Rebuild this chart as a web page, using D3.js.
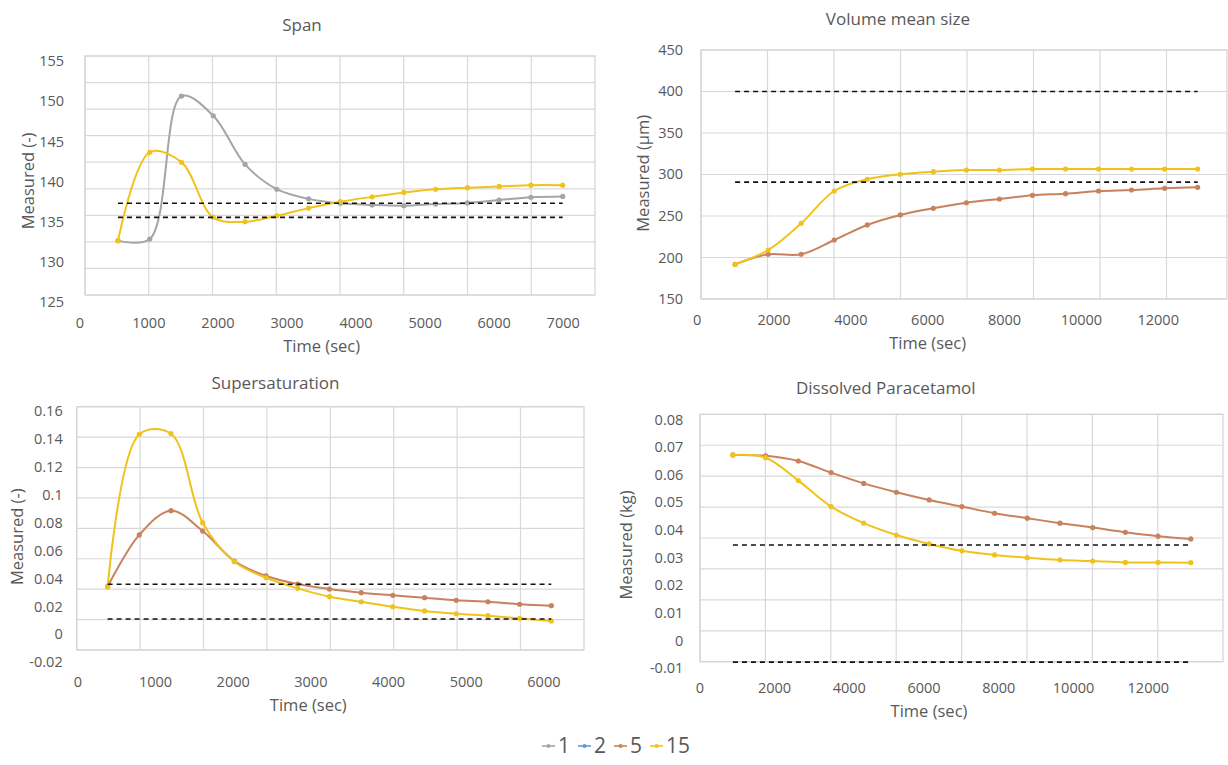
<!DOCTYPE html>
<html lang="en">
<head>
<meta charset="UTF-8" />
<script src="https://d3js.org/d3.v7.min.js"></script>
<title>Crystallisation runs</title>
<style>
  body { margin: 0; background: #fff; }
  svg text { font-family: "Open Sans", "Liberation Sans", sans-serif; fill: #595959; }
</style>
</head>
<body>
<script>
// ---- data ----
var spanTime  = [560, 1020, 1480, 1940, 2400, 2860, 3320, 3780, 4240, 4700, 5160, 5620, 6080, 6540, 7000];
var spanRun1  = [132.6, 132.8, 150.6, 148.15, 142.1, 139.0, 137.8, 137.25, 137.05, 136.95, 137.15, 137.3, 137.65, 138.0, 138.1];
var spanRun15 = [132.6, 143.6, 142.35, 135.5, 134.95, 135.7, 136.65, 137.45, 138.05, 138.6, 139.0, 139.2, 139.35, 139.5, 139.5];
var spanLimits = [137.25, 135.5];
var spanXTicks = [0, 1000, 2000, 3000, 4000, 5000, 6000, 7000];
var spanYTicks = [125, 130, 135, 140, 145, 150, 155];

var volTime  = [1000, 1860, 2720, 3580, 4440, 5300, 6160, 7020, 7880, 8740, 9600, 10460, 11320, 12180, 13040];
var volRun5  = [191.3, 203.4, 203.4, 220.5, 238.6, 250.6, 258.6, 265.3, 269.8, 274.2, 276.2, 279.4, 280.6, 282.6, 283.8];
var volRun15 = [191.3, 208.5, 240.6, 279.4, 293.5, 299.5, 302.6, 304.6, 304.6, 305.8, 305.8, 305.8, 305.8, 305.8, 305.8];
var volLimits = [399, 290];
var volXTicks = [0, 2000, 4000, 6000, 8000, 10000, 12000];
var volYTicks = [150, 200, 250, 300, 350, 400, 450];

var supTime  = [390, 798, 1206, 1614, 2022, 2430, 2838, 3246, 3654, 4062, 4470, 4878, 5286, 5694, 6102];
var supRun5  = [0.0338, 0.0709, 0.0883, 0.0737, 0.0522, 0.0415, 0.0357, 0.0321, 0.0295, 0.0276, 0.0259, 0.0240, 0.0230, 0.0212, 0.0202];
var supRun15 = [0.0338, 0.1431, 0.1435, 0.0797, 0.0517, 0.0402, 0.0326, 0.0266, 0.0230, 0.0194, 0.0164, 0.0144, 0.0130, 0.0111, 0.0092];
var supLimits = [0.0355, 0.0106];
var supXTicks = [0, 1000, 2000, 3000, 4000, 5000, 6000];
var supYTicks = [-0.02, 0, 0.02, 0.04, 0.06, 0.08, 0.1, 0.12, 0.14, 0.16];

var disTime  = [900, 1775, 2650, 3525, 4400, 5275, 6150, 7025, 7900, 8775, 9650, 10525, 11400, 12275, 13150];
var disRun5  = [0.0670, 0.0667, 0.0648, 0.0606, 0.0567, 0.0535, 0.0507, 0.0483, 0.0459, 0.0441, 0.0423, 0.0407, 0.0390, 0.0376, 0.0366];
var disRun15 = [0.0670, 0.0660, 0.0577, 0.0483, 0.0423, 0.0380, 0.0348, 0.0323, 0.0308, 0.0298, 0.0290, 0.0286, 0.0281, 0.0281, 0.0280];
var disLimits = [0.0344, -0.008];
var disXTicks = [0, 2000, 4000, 6000, 8000, 10000, 12000];
var disYTicks = [-0.01, 0, 0.01, 0.02, 0.03, 0.04, 0.05, 0.06, 0.07, 0.08];

var legendNames = ["1", "2", "5", "15"];
var colors = {"1": "#a5a5a5", "2": "#5b9bd5", "5": "#c8825c", "15": "#f0c31c"};

var svg = d3.select("body").append("svg").attr("width", 1228).attr("height", 765);

function panel(p) {
  var g = svg.append("g");
  // plot frame and grid (the picture's grid does not sit on the tick labels)
  var gy = d3.scaleLinear().domain([0, p.ny]).range([p.y1, p.y0]);
  g.selectAll(".hg").data(d3.range(p.ny + 1)).join("line")
    .attr("x1", p.x0).attr("x2", p.x1).attr("y1", gy).attr("y2", gy)
    .attr("stroke", "#d9d9d9").attr("stroke-width", 1.2);
  g.selectAll(".vg").data(d3.range(p.x0, p.x1 - 2, p.dx)).join("line")
    .attr("x1", function(d){ return d; }).attr("x2", function(d){ return d; })
    .attr("y1", p.y0).attr("y2", p.y1)
    .attr("stroke", "#d9d9d9").attr("stroke-width", 1.2);
  g.append("rect").attr("x", p.x0).attr("y", p.y0).attr("width", p.x1 - p.x0).attr("height", p.y1 - p.y0)
    .attr("fill", "none").attr("stroke", "#d4d4d4").attr("stroke-width", 1.2);

  var x = d3.scaleLinear().domain(p.xDomain).range(p.xRange);
  var y = d3.scaleLinear().domain(p.yDomain).range(p.yRange);

  var ax = g.append("g").attr("transform", "translate(0," + p.xLabY + ")")
    .call(d3.axisBottom(x).tickValues(p.xTicks).tickSize(0).tickPadding(0).tickFormat(function(d){ return String(d); }));
  ax.select(".domain").remove();
  ax.selectAll("text").attr("dy", "0.35em").style("font-size", "14.5px").style("font-family", "Open Sans").attr("fill", "#595959");

  var ay = g.append("g").attr("transform", "translate(" + p.yLabX + ",0)")
    .call(d3.axisLeft(y).tickValues(p.yTicks).tickSize(0).tickPadding(0).tickFormat(function(d){ return String(+d.toFixed(3)); }));
  ay.select(".domain").remove();
  ay.selectAll("text").attr("dy", "0.35em").style("font-size", "14.5px").style("font-family", "Open Sans").attr("fill", "#595959");

  var line = d3.line()
    .x(function(d, i){ return x(p.time[i]); })
    .y(function(d){ return y(d); })
    .curve(d3.curveCatmullRom.alpha(0.5));

  p.series.forEach(function(s) {
    g.append("path").datum(s.values).attr("d", line)
      .attr("fill", "none").attr("stroke", colors[s.name]).attr("stroke-width", 2);
    g.selectAll(null).data(s.values).join("circle")
      .attr("cx", function(d, i){ return x(p.time[i]); })
      .attr("cy", function(d){ return y(d); })
      .attr("r", 2.6).attr("fill", colors[s.name]);
  });

  p.limits.forEach(function(v) {
    g.append("line")
      .attr("x1", x(p.time[0])).attr("x2", x(p.time[p.time.length - 1]))
      .attr("y1", y(v)).attr("y2", y(v))
      .attr("stroke", "#111").attr("stroke-width", 1.6).attr("stroke-dasharray", "5,4");
  });

  g.append("text").attr("x", p.title[1]).attr("y", p.title[2]).attr("text-anchor", "middle")
    .attr("dy", "0.35em").style("font-size", "17px").text(p.title[0]);
  g.append("text").attr("x", p.xTitle[0]).attr("y", p.xTitle[1]).attr("text-anchor", "middle")
    .attr("dy", "0.35em").style("font-size", "16.5px").text("Time (sec)");
  g.append("text").attr("transform", "translate(" + p.yTitle[1] + "," + p.yTitle[2] + ") rotate(-90)")
    .attr("text-anchor", "middle").attr("dy", "0.35em").style("font-size", "16.5px").text(p.yTitle[0]);
}

panel({
  x0: 85, x1: 595, y0: 56, y1: 295, dx: 63.75, ny: 9,
  xDomain: [0, 7000], xRange: [79.3, 562.7], yDomain: [125, 155], yRange: [301.7, 60.7],
  xTicks: spanXTicks, yTicks: spanYTicks, xLabY: 322.7, yLabX: 64,
  time: spanTime, limits: spanLimits,
  series: [{name: "1", values: spanRun1}, {name: "15", values: spanRun15}],
  title: ["Span", 302, 25], xTitle: [321.7, 346.7], yTitle: ["Measured (-)", 28, 181]
});

panel({
  x0: 701, x1: 1227, y0: 50, y1: 299, dx: 66.5, ny: 6,
  xDomain: [0, 12000], xRange: [696.7, 1157.7], yDomain: [150, 450], yRange: [298.7, 49],
  xTicks: volXTicks, yTicks: volYTicks, xLabY: 320, yLabX: 683,
  time: volTime, limits: volLimits,
  series: [{name: "5", values: volRun5}, {name: "15", values: volRun15}],
  title: ["Volume mean size", 898, 19], xTitle: [927.7, 343.3], yTitle: ["Measured (\u00b5m)", 643.3, 173.3]
});

panel({
  x0: 76.7, x1: 584, y0: 406.7, y1: 650, dx: 63.4, ny: 8,
  xDomain: [0, 6000], xRange: [77.3, 543.4], yDomain: [-0.02, 0.16], yRange: [661.7, 410.7],
  xTicks: supXTicks, yTicks: supYTicks, xLabY: 682.3, yLabX: 62.7,
  time: supTime, limits: supLimits,
  series: [{name: "5", values: supRun5}, {name: "15", values: supRun15}],
  title: ["Supersaturation", 275.5, 382.7], xTitle: [308.3, 705.7], yTitle: ["Measured (-)", 17.5, 536.7]
});

panel({
  x0: 700, x1: 1223, y0: 414.3, y1: 661.7, dx: 65.4, ny: 8,
  xDomain: [0, 12000], xRange: [699.3, 1147.8], yDomain: [-0.01, 0.08], yRange: [667.7, 419],
  xTicks: disXTicks, yTicks: disYTicks, xLabY: 688.3, yLabX: 683.3,
  time: disTime, limits: disLimits,
  series: [{name: "5", values: disRun5}, {name: "15", values: disRun15}],
  title: ["Dissolved Paracetamol", 885.8, 388.3], xTitle: [929, 711], yTitle: ["Measured (kg)", 625.8, 545]
});

// legend
var lg = svg.append("g").attr("transform", "translate(542,746)");
var lx = 0;
legendNames.forEach(function(n) {
  lg.append("line").attr("x1", lx).attr("x2", lx + 13).attr("y1", 0).attr("y2", 0)
    .attr("stroke", colors[n]).attr("stroke-width", 1.6);
  lg.append("circle").attr("cx", lx + 6.5).attr("cy", 0).attr("r", 2).attr("fill", colors[n]);
  var t = lg.append("text").attr("x", lx + 16).attr("y", 0).attr("dy", "0.35em")
    .style("font-size", "21px").text(n);
  lx += 16 + t.node().getComputedTextLength() + 8;
});
</script>
</body>
</html>
